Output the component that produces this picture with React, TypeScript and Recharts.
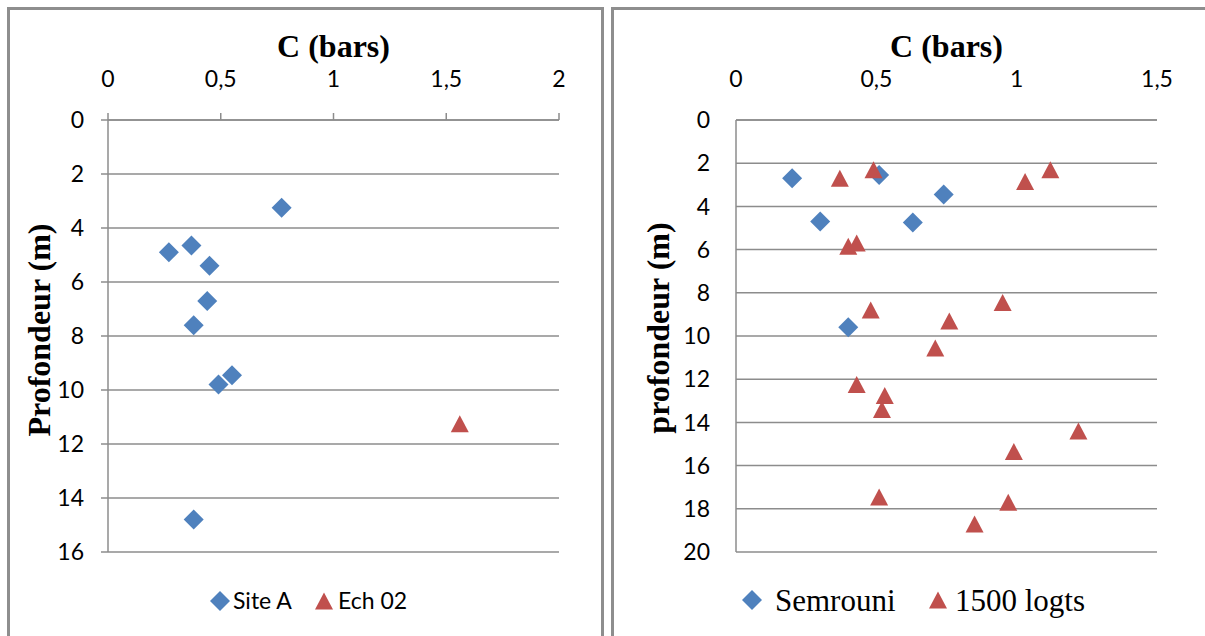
import React from 'react';
import { ScatterChart, Scatter, XAxis, YAxis, CartesianGrid, Legend, Label } from 'recharts';

// ---- Left chart data ----
const leftXTicks = [0, 0.5, 1, 1.5, 2];
const leftYTicks = [0, 2, 4, 6, 8, 10, 12, 14, 16];
const siteAC = [0.77, 0.37, 0.27, 0.45, 0.44, 0.38, 0.55, 0.49, 0.38];
const siteADepth = [3.25, 4.65, 4.9, 5.4, 6.7, 7.6, 9.45, 9.8, 14.8];
const ech02C = [1.56];
const ech02Depth = [11.25];

// ---- Right chart data ----
const rightXTicks = [0, 0.5, 1, 1.5];
const rightYTicks = [0, 2, 4, 6, 8, 10, 12, 14, 16, 18, 20];
const semrouniC = [0.2, 0.51, 0.74, 0.3, 0.63, 0.4];
const semrouniDepth = [2.7, 2.55, 3.45, 4.7, 4.75, 9.6];
const logtsC = [0.49, 0.37, 1.03, 1.12, 0.4, 0.43, 0.95, 0.48, 0.76, 0.71, 0.43, 0.53, 0.52, 1.22, 0.99, 0.51, 0.97, 0.85];
const logtsDepth = [2.3, 2.7, 2.85, 2.3, 5.85, 5.7, 8.45, 8.8, 9.3, 10.55, 12.25, 12.75, 13.4, 14.4, 15.35, 17.45, 17.7, 18.7];

const zip = (xs: number[], ys: number[]) => xs.map((x, i) => ({ x, y: ys[i] }));

const BLUE = '#4F81BD';
const RED = '#C0504D';
const GRID = '#8c8c8c';
const SANS = 'Lato, "Open Sans", sans-serif';
const SERIF = '"Liberation Serif", "Times New Roman", serif';

const fmt = (v: number) => String(v).replace('.', ',');

const Diamond = (props: any) => {
  const { cx, cy } = props;
  const r = 10;
  return <path d={`M${cx},${cy - r}L${cx + r},${cy}L${cx},${cy + r}L${cx - r},${cy}Z`} fill={BLUE} />;
};
const Triangle = (props: any) => {
  const { cx, cy } = props;
  return <path d={`M${cx},${cy - 8.5}L${cx + 9},${cy + 8.5}L${cx - 9},${cy + 8.5}Z`} fill={RED} />;
};

const legendDiamond = (x: number, y: number) => (
  <path d={`M${x},${y - 10}L${x + 10},${y}L${x},${y + 10}L${x - 10},${y}Z`} fill={BLUE} />
);
const legendTriangle = (x: number, y: number) => (
  <path d={`M${x},${y - 8.5}L${x + 9},${y + 8.5}L${x - 9},${y + 8.5}Z`} fill={RED} />
);

const CHART_H = 636;
const LEG_H = 84;

const LeftLegend = () => (
  <svg width={604} height={LEG_H} style={{ display: 'block' }}>
    {legendDiamond(220, 49)}
    <text x={233} y={57} fontFamily={SANS} fontSize={23} fill="#000">Site A</text>
    {legendTriangle(324, 49)}
    <text x={338} y={57} fontFamily={SANS} fontSize={23} fill="#000">Ech 02</text>
  </svg>
);

const RightLegend = () => (
  <svg width={601} height={LEG_H} style={{ display: 'block' }}>
    {legendDiamond(148, 48)}
    <text x={171} y={59} fontFamily={SERIF} fontSize={31} fill="#000">Semrouni</text>
    {legendTriangle(334, 48)}
    <text x={351} y={59} fontFamily={SERIF} fontSize={31} fill="#000">1500 logts</text>
  </svg>
);

const XTitle = (props: any) => {
  const vb = props.viewBox || { x: 0, y: 80, width: 0 };
  return (
    <text x={vb.x + vb.width / 2} y={vb.y - 23} textAnchor="middle" fontFamily={SERIF} fontWeight="bold" fontSize={32} fill="#000">
      C (bars)
    </text>
  );
};

const makeYTitle = (text: string, dx: number, cyOff: number) => (props: any) => {
  const vb = props.viewBox || { x: 0, y: 120, width: 60, height: 432 };
  const x = vb.x + dx;
  const y = vb.y + cyOff;
  return (
    <text x={x} y={y} transform={`rotate(-90, ${x}, ${y})`} textAnchor="middle" fontFamily={SERIF} fontWeight="bold" fontSize={32} fill="#000">
      {text}
    </text>
  );
};

const LeftYTitle = makeYTitle('Profondeur (m)', 2, 210);
const RightYTitle = makeYTitle('profondeur (m)', -7, 208);

const tickStyle = { fontFamily: SANS, fontSize: 23, fill: '#000' };

export default function App() {
  return (
    <div style={{ position: 'absolute', left: 0, top: 0, width: 1205, height: 636, overflow: 'hidden', background: '#fff' }}>
      <div style={{ position: 'absolute', left: 7, top: 7, width: 591, height: 700, border: '3px solid #8e8e8e', boxSizing: 'content-box' }} />
      <div style={{ position: 'absolute', left: 611, top: 7, width: 700, height: 700, border: '3px solid #8e8e8e' }} />

      <div style={{ position: 'absolute', left: 0, top: 0 }}>
        <ScatterChart width={604} height={CHART_H} margin={{ top: 80, right: 45, bottom: 0, left: 48 }}>
          <CartesianGrid horizontal vertical={false} stroke={GRID} strokeWidth={1.5} />
          <XAxis
            type="number"
            dataKey="x"
            orientation="top"
            domain={[0, 2]}
            ticks={leftXTicks}
            tickFormatter={fmt}
            height={40}
            tickSize={7}
            tickMargin={26}
            tick={tickStyle}
            stroke={GRID}
            strokeWidth={1.5}
            allowDataOverflow
          >
            <Label content={<XTitle />} />
          </XAxis>
          <YAxis
            type="number"
            dataKey="y"
            reversed
            domain={[0, 16]}
            ticks={leftYTicks}
            width={60}
            tickSize={7}
            tickMargin={17}
            tick={tickStyle}
            stroke={GRID}
            strokeWidth={1.5}
            allowDataOverflow
          >
            <Label content={<LeftYTitle />} />
          </YAxis>
          <Scatter name="Site A" data={zip(siteAC, siteADepth)} fill={BLUE} shape={<Diamond />} isAnimationActive={false} />
          <Scatter name="Ech 02" data={zip(ech02C, ech02Depth)} fill={RED} shape={<Triangle />} isAnimationActive={false} />
          <Legend
            verticalAlign="bottom"
            content={() => <LeftLegend />}
            wrapperStyle={{ left: 0, bottom: 0, width: 604, height: LEG_H }}
          />
        </ScatterChart>
      </div>

      <div style={{ position: 'absolute', left: 604, top: 0 }}>
        <ScatterChart width={601} height={CHART_H} margin={{ top: 80, right: 48, bottom: 0, left: 72 }}>
          <CartesianGrid horizontal vertical={false} stroke={GRID} strokeWidth={1.5} />
          <XAxis
            type="number"
            dataKey="x"
            orientation="top"
            domain={[0, 1.5]}
            ticks={rightXTicks}
            tickFormatter={fmt}
            height={40}
            tickSize={0}
            tickLine={false}
            tickMargin={33}
            tick={tickStyle}
            stroke={GRID}
            strokeWidth={1.5}
            allowDataOverflow
          >
            <Label content={<XTitle />} />
          </XAxis>
          <YAxis
            type="number"
            dataKey="y"
            reversed
            domain={[0, 20]}
            ticks={rightYTicks}
            width={60}
            tickSize={0}
            tickLine={false}
            tickMargin={26}
            tick={tickStyle}
            stroke={GRID}
            strokeWidth={1.5}
            allowDataOverflow
          >
            <Label content={<RightYTitle />} />
          </YAxis>
          <Scatter name="Semrouni" data={zip(semrouniC, semrouniDepth)} fill={BLUE} shape={<Diamond />} isAnimationActive={false} />
          <Scatter name="1500 logts" data={zip(logtsC, logtsDepth)} fill={RED} shape={<Triangle />} isAnimationActive={false} />
          <Legend
            verticalAlign="bottom"
            content={() => <RightLegend />}
            wrapperStyle={{ left: 0, bottom: 0, width: 601, height: LEG_H }}
          />
        </ScatterChart>
      </div>
    </div>
  );
}
